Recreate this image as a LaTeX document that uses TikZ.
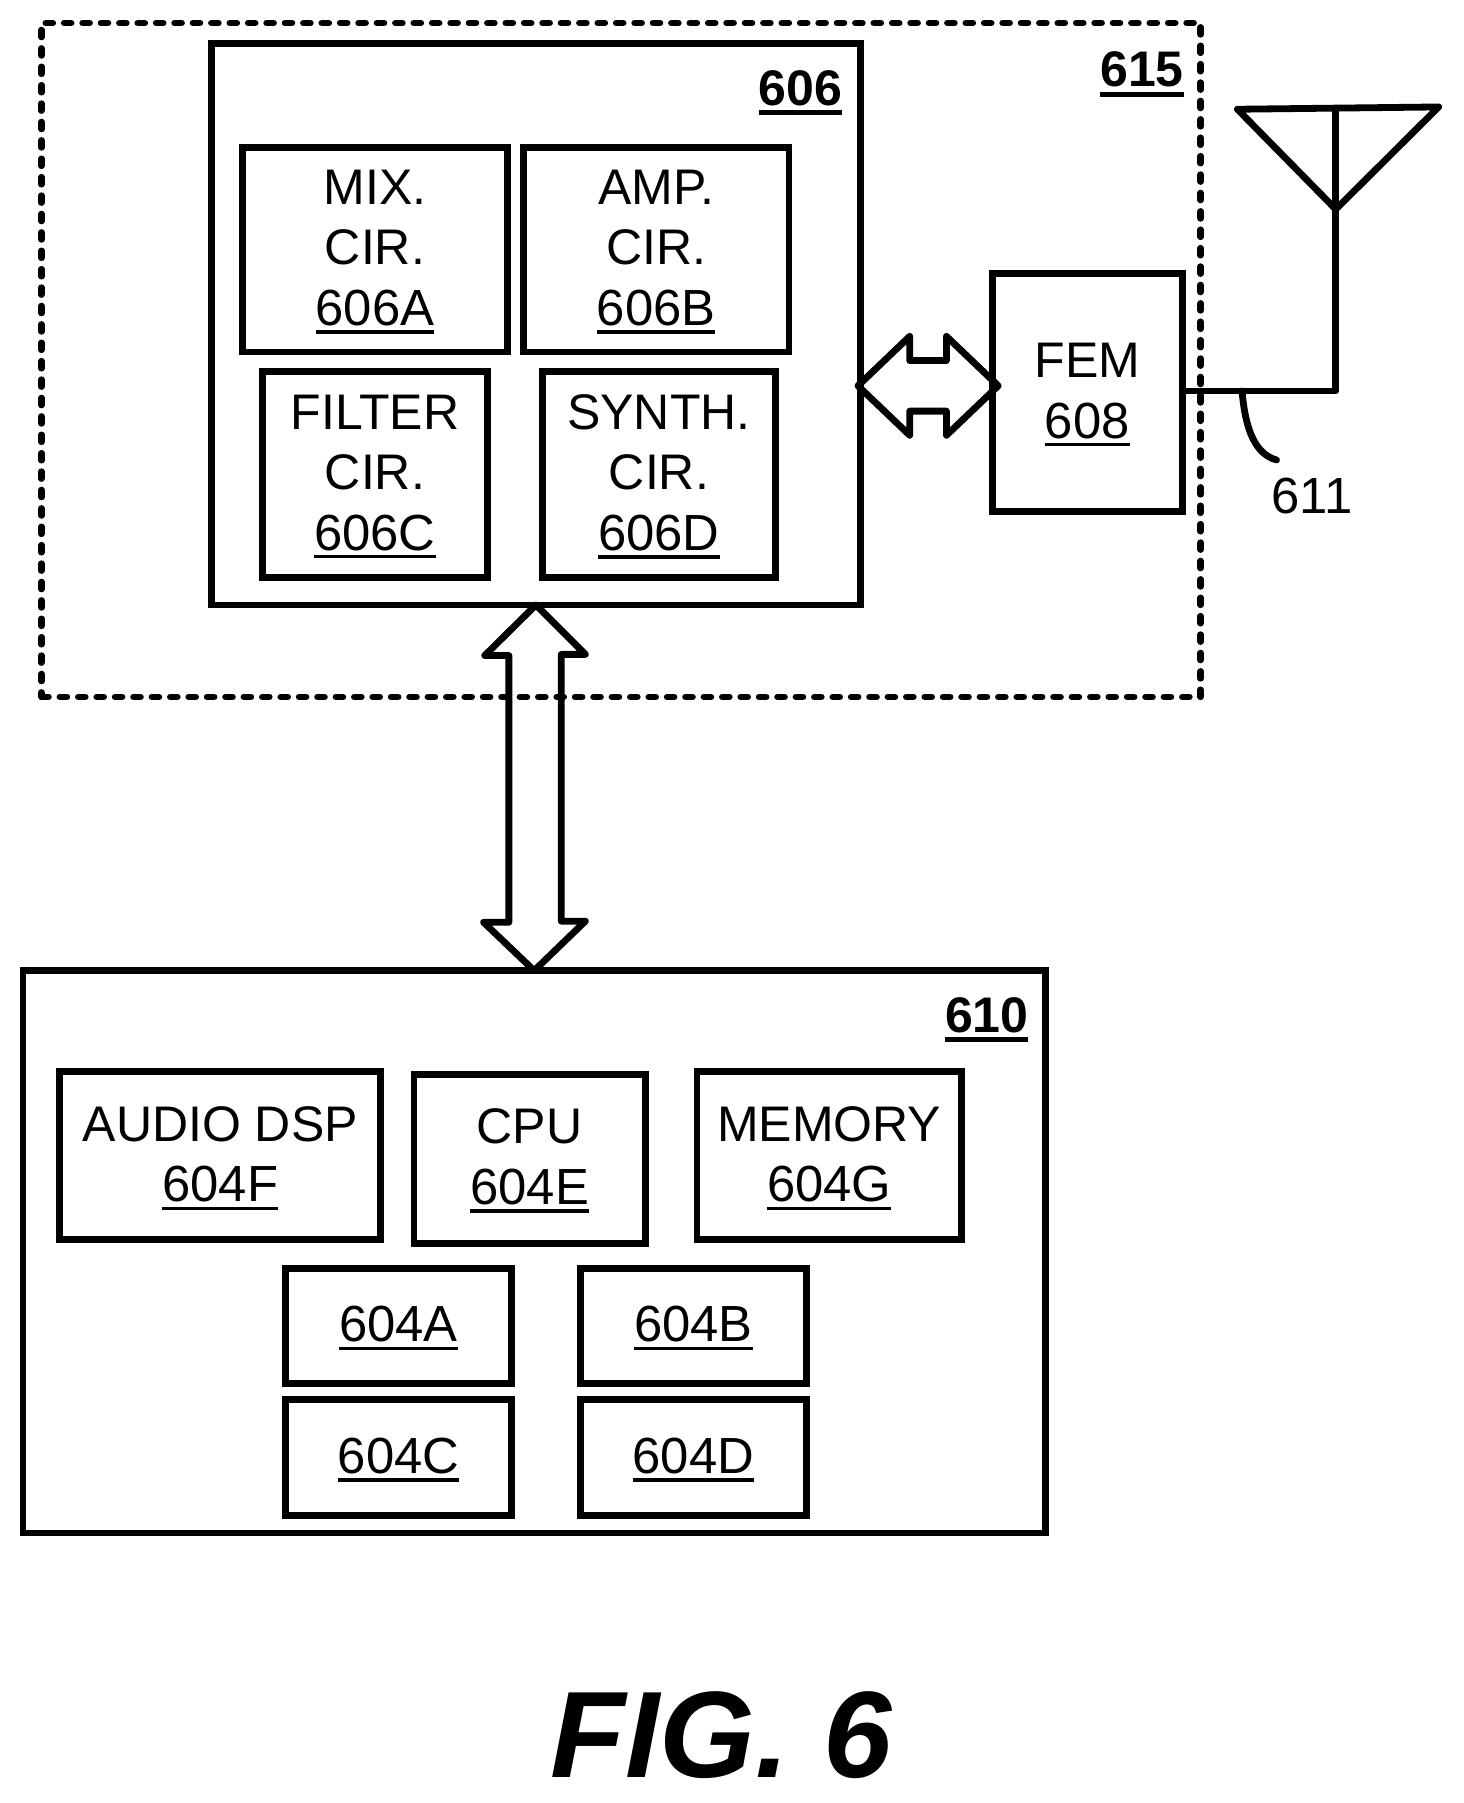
\documentclass[tikz,border=0pt]{standalone}
\usepackage{fontspec}
\setmainfont{Liberation Sans}
\usetikzlibrary{positioning}
\newcommand{\refnum}[1]{\leavevmode\vtop{\hbox{\fontsize{25.4}{30.3}\selectfont #1}\kern 2.2pt\hrule height 1.6pt\kern-2.2pt}}
\newcommand{\refbold}[1]{\leavevmode\vtop{\hbox{\bfseries #1}\kern 2.2pt\hrule height 2.6pt\kern-3pt}}
\begin{document}
\begin{tikzpicture}[x=0.575pt,y=-0.575pt,
    main node/.style={rectangle,draw,line width=3.4pt,outer sep=0pt,inner sep=0pt,align=center,font=\fontsize{25}{30.3}\selectfont},
    size/.style 2 args={minimum width=#1*0.575pt,minimum height=#2*0.575pt},
    text node/.style={inner sep=0pt,font=\fontsize{25.4}{30.3}\selectfont},
    wire/.style={line width=3.4pt,line join=round}]
   \useasboundingbox (0,0) rectangle (1273,1567.8);
   % radio part
   \node[draw,line width=3.2pt,line cap=round,dash pattern=on 3.6pt off 5.6pt,outer sep=0pt,inner sep=0pt,size={1008}{586}] (rf) at (540,313) {};
   \node[text node,font=\fontsize{25}{30}\selectfont] (rflabel) at (993,62) {\refbold{615}};
   \node[main node,size={564}{488}] (rfc) at (466,282) {};
   \node[text node,font=\fontsize{25}{30}\selectfont] (rfclabel) at (696,78) {\refbold{606}};
   \node[main node,size={230}{178}] (mix) at (326,217) {MIX.\\CIR.\\\refnum{606A}};
   \node[main node,size={231}{178}] (amp) at (570.5,217) {AMP.\\CIR.\\\refnum{606B}};
   \node[main node,size={196}{179}] (filter) at (326,412.5) {FILTER\\CIR.\\\refnum{606C}};
   \node[main node,size={202}{179}] (synth) at (573,412.5) {SYNTH.\\CIR.\\\refnum{606D}};
   \node[main node,size={165}{207}] (fem) at (945.5,341.5) {FEM\\\refnum{608}};
   % antenna
   \coordinate (feed) at (1161.5,340);
   \coordinate (tipl) at (1076,95);
   \coordinate (tipr) at (1251,93);
   \coordinate (apex) at (1161.5,182);
   \coordinate (stem) at (1161.5,94);
   \draw[wire] (tipl) -- (tipr) -- (apex) -- cycle;
   \draw[wire] (stem) -- (feed) -- (fem.east |- feed);
   \coordinate (lead) at (1080,340);
   \coordinate (leadend) at (1110,400);
   \draw[wire,line cap=round] (lead) .. controls (1083,375) and (1092,395) .. (leadend);
   \node[text node] (ant) at (1141,431) {611};
   % baseband part
   \node[main node,size={889}{489}] (bb) at (464.5,1088.5) {};
   \node[text node,font=\fontsize{25}{30}\selectfont] (bblabel) at (858,884) {\refbold{610}};
   \node[main node,size={279}{146}] (dsp) at (191.5,1005) {AUDIO DSP\\\refnum{604F}};
   \node[main node,size={201}{147}] (cpu) at (460.5,1007.5) {CPU\\\refnum{604E}};
   \node[main node,size={230}{146}] (mem) at (721,1005) {MEMORY\\\refnum{604G}};
   \node[main node,size={197}{100}] (a) at (346.5,1153) {\refnum{604A}};
   \node[main node,size={196}{100}] (b) at (603,1153) {\refnum{604B}};
   \node[main node,size={197}{101}] (c) at (346.5,1267.5) {\refnum{604C}};
   \node[main node,size={196}{101}] (d) at (603,1267.5) {\refnum{604D}};
   % double arrows
   \draw[wire] (rfc.south) -- ++(43,43) -- ++(-21,0) -- ++(0,232) -- ++(21,0) -- (bb.north)
       -- ++(-44,-42) -- ++(22,0) -- ++(0,-232) -- ++(-21,0) -- cycle;
   \draw[wire] (rfc.east |- fem.west) ++(-2,-6) coordinate (hl) -- ++(45,-43) -- ++(0,21) -- ++(32,0) -- ++(0,-21)
       -- ++(45,43) -- ++(-45,43) -- ++(0,-21) -- ++(-32,0) -- ++(0,21) -- cycle;
   \node[inner sep=0pt,font=\fontsize{61.5}{62}\bfseries\itshape\selectfont] (fig) at (627,1509) {FIG. 6};
\end{tikzpicture}
\end{document}
